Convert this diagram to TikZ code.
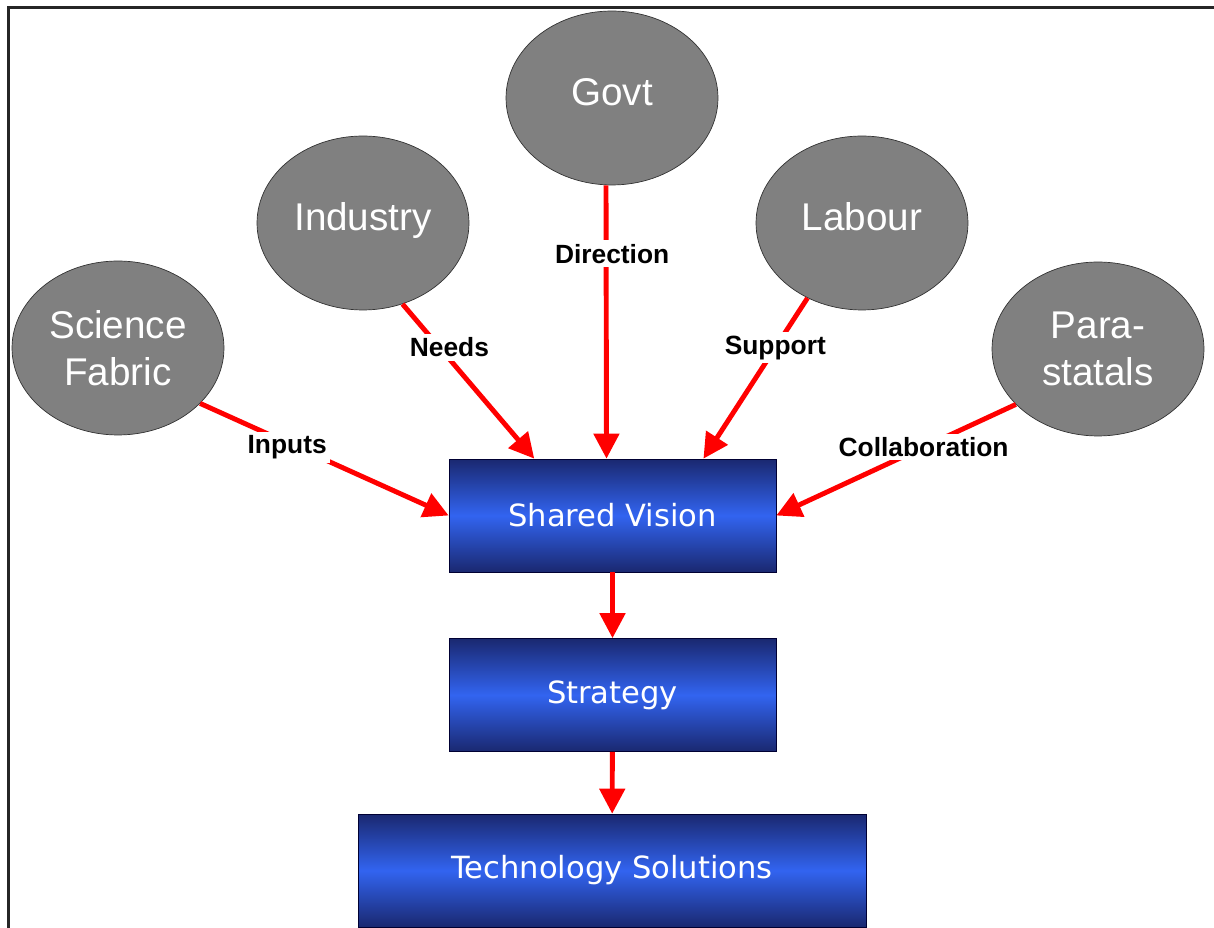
\documentclass[tikz,border=0pt]{standalone}
\usepackage{fontspec}
\setmainfont{Liberation Sans}
\newfontfamily\boxfont{DejaVu Sans}
\usetikzlibrary{shapes,arrows.meta}
\definecolor{blobgray}{RGB}{128,128,128}
\definecolor{barnavy}{RGB}{26,40,112}
\definecolor{barblue}{RGB}{50,100,240}
\tikzset{
  blob/.style={ellipse,draw=black!80,thin,fill=blobgray,text=white,minimum width=4.24cm,minimum height=3.48cm,inner sep=0pt,align=center,font=\fontsize{22}{26.5}\selectfont},
  blobhigh/.style={blob,text depth=2.4mm},
  bar/.style={rectangle,draw=black!80!blue,thin,top color=barnavy,bottom color=barnavy,middle color=barblue,text=white,minimum width=6.54cm,minimum height=2.26cm,font=\boxfont\fontsize{17.4}{20}\selectfont},
  link/.style={draw=red,line width=2.8pt,-{Triangle[length=0.5cm,width=0.5cm]}},
  tag/.style={fill=white,text=black,inner sep=2pt,font=\bfseries\fontsize{15}{18}\selectfont}
}
\begin{document}
\begin{tikzpicture}[x=0.02cm,y=-0.02cm]
\useasboundingbox(0,0)rectangle(1214,928);
%frame
\draw[line width=1.5pt,black!85](8.5,928)--(8.5,7.5)--(1214,7.5);
%partners
\node[blobhigh](govt)at(612,98){Govt};
\node[blobhigh](ind)at(363,223){Industry};
\node[blobhigh](lab)at(862,223){Labour};
\node[blob](sci)at(118,348){Science\\Fabric};
\node[blob](para)at(1098,349){Para-\\statals};
%boxes
\node[bar](vision)at(612.5,515.5){Shared Vision};
\node[bar](strat)at(612.5,695){Strategy};
\node[bar,minimum width=10.16cm](tech)at(612,870.5){Technology Solutions};
%links
\draw[link](sci.-34)--node[tag,pos=.35,yshift=-1mm]{Inputs}(vision.west);
\draw[link](ind.-64)--node[tag,pos=.28,xshift=2mm]{Needs}(vision.144);
\draw[link]([xshift=-1.2mm]govt.south)--node[tag,pos=.25,xshift=1.2mm]{Direction}([xshift=-1.2mm]vision.north);
\draw[link](lab.-126)--node[tag,pos=.31]{Support}(vision.32);
\draw[link](para.-146)--node[tag,pos=.385]{Collaboration}(vision.east);
\draw[link](vision)--(strat);
\draw[link](strat)--(tech);
\end{tikzpicture}
\end{document}
